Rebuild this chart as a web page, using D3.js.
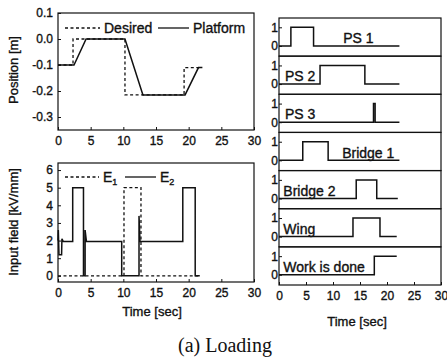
<!DOCTYPE html>
<html>
<head>
<meta charset="utf-8">
<script src="https://cdn.jsdelivr.net/npm/d3@7"></script>
<style>
  body { margin: 0; background: #fff; }
  svg { display: block; font-family: "Liberation Sans", Arial, sans-serif; }
  /* scanned print looks a little heavier than plain regular */
  svg text.heavy { stroke: #111; stroke-width: 0.35px; }
</style>
</head>
<body>
<div id="chart"></div>
<script>
// time axis shared by all panels
const timeTicks = [0, 5, 10, 15, 20, 25, 30];

// position plot (top left)
const posTicks = [0.1, 0.0, -0.1, -0.2, -0.3];
const desiredT = [0, 2.3, 2.3, 10.25, 10.25, 19.3, 19.3, 21.7];
const desiredV = [-0.1, -0.1, 0, 0, -0.215, -0.215, -0.11, -0.11];
const platformT = [0, 2.45, 4.3, 10.25, 13.0, 19.45, 21.5, 22.1];
const platformV = [-0.1, -0.1, 0, 0, -0.215, -0.215, -0.11, -0.11];

// input field plot (bottom left)
const fieldTicks = [0, 1, 2, 3, 4, 5, 6];
const e1T = [0, 10.1, 10.1, 12.7, 12.7, 21.7];
const e1V = [0, 0, 5, 5, 0, 0];
const e2T = [0, 0.05, 0.15, 0.55, 0.6, 0.8, 2.25, 2.25, 3.9, 3.9, 4.15, 4.15, 4.35, 9.75, 9.75, 12.4, 12.4, 12.55, 19.1, 19.1, 21.0, 21.0, 21.7];
const e2V = [2.0, 2.6, 1.2, 1.2, 2.1, 1.95, 1.95, 5, 5, 0, 0, 2.6, 1.95, 1.95, 0, 0, 3.4, 1.95, 1.95, 5, 5, 0, 0];

// on/off signals (right column)
const sigNames = ["PS 1", "PS 2", "PS 3", "Bridge 1", "Bridge 2", "Wing", "Work is done"];
const sigOn = [2.2, 7.6, 17.5, 4.4, 14.3, 13.7, 17.65];
const sigOff = [6.4, 15.9, 17.8, 9.1, 18.1, 18.7, null];
const sigEnd = [22.3, 22.3, 22.3, 22.3, 22.0, 21.8, 21.8];
const sigTicks = [0, 1];
// where each name sits along the time axis
const sigLabelAt = [11.9, 1.1, 1.1, 11.7, 0.8, 0.8, 0.8];

const W = 447, H = 359;
const svg = d3.select("#chart").append("svg")
    .attr("width", W).attr("height", H)
    .attr("viewBox", `0 0 ${W} ${H}`);

svg.append("rect").attr("width", W).attr("height", H).attr("fill", "#fff");

const ink = "#111";
const pts = (ts, vs) => ts.map((t, i) => [t, vs[i]]);

// ---- left column scales ----
const xL = d3.scaleLinear().domain([0, 30]).range([58, 254]);
const yPos = d3.scaleLinear().domain([-0.35, 0.1]).range([130, 13]);
const yField = d3.scaleLinear().domain([-0.35, 6.4]).range([282, 163]);

function frame(x0, x1, y0, y1) {
    svg.append("rect")
        .attr("x", x0).attr("y", y0)
        .attr("width", x1 - x0).attr("height", y1 - y0)
        .attr("fill", "none").attr("stroke", ink).attr("stroke-width", 1.2);
}

function styleAxis(g) {
    g.select(".domain").remove();
    g.selectAll(".tick line").attr("stroke", ink).attr("stroke-width", 1);
    g.selectAll(".tick text")
        .attr("class", "heavy")
        .attr("fill", ink)
        .style("font-size", "12px")
        .style("font-family", "'Liberation Sans', Arial, sans-serif");
}

function leftPlot(y, yTicks, fmt) {
    const [yb, yt] = y.range();
    frame(xL.range()[0], xL.range()[1], yt, yb);
    svg.append("g")
        .attr("transform", `translate(0,${yb})`)
        .call(d3.axisBottom(xL).tickValues(timeTicks).tickSize(-3).tickPadding(6))
        .call(styleAxis);
    svg.append("g")
        .attr("transform", `translate(${xL.range()[0]},0)`)
        .call(d3.axisLeft(y).tickValues(yTicks).tickSize(-3).tickPadding(5).tickFormat(fmt))
        .call(styleAxis);
}

leftPlot(yPos, posTicks, d => d.toFixed(1));
leftPlot(yField, fieldTicks, d3.format("d"));

const linePos = d3.line().x(d => xL(d[0])).y(d => yPos(d[1]));
const lineField = d3.line().x(d => xL(d[0])).y(d => yField(d[1]));

svg.append("path").attr("d", linePos(pts(platformT, platformV)))
    .attr("fill", "none").attr("stroke", ink).attr("stroke-width", 1.5);
svg.append("path").attr("d", linePos(pts(desiredT, desiredV)))
    .attr("fill", "none").attr("stroke", ink).attr("stroke-width", 1.3)
    .attr("stroke-dasharray", "3,2.5");

svg.append("path").attr("d", lineField(pts(e1T, e1V)))
    .attr("fill", "none").attr("stroke", ink).attr("stroke-width", 1.3)
    .attr("stroke-dasharray", "3,2.5");
svg.append("path").attr("d", lineField(pts(e2T, e2V)))
    .attr("fill", "none").attr("stroke", ink).attr("stroke-width", 1.5);

// legends
function legendItem(x0, x1, y, dashed, label, sub) {
    svg.append("line")
        .attr("x1", x0).attr("x2", x1).attr("y1", y).attr("y2", y)
        .attr("stroke", ink).attr("stroke-width", 1.3)
        .attr("stroke-dasharray", dashed ? "3,2.5" : null);
    const t = svg.append("text")
        .attr("class", "heavy")
        .attr("x", x1 + 4).attr("y", y + 5)
        .attr("fill", ink).style("font-size", "14px")
        .text(label);
    if (sub) {
        t.append("tspan").attr("dy", 3).style("font-size", "9px").text(sub);
    }
}
legendItem(65, 100, 28, true, "Desired");
legendItem(158, 189, 28, false, "Platform");
legendItem(65, 99, 177, true, "E", "1");
legendItem(125, 156, 177, false, "E", "2");

// ---- right column: stacked on/off signals ----
const xR = d3.scaleLinear().domain([0, 30]).range([279, 441]);
const top0 = 18, bottom0 = 285;
const ph = (bottom0 - top0) / sigNames.length;

sigNames.forEach((name, i) => {
    const yt = top0 + i * ph, yb = yt + ph;
    const y = d3.scaleLinear().domain([-0.55, 1.5]).range([yb, yt]);
    frame(xR.range()[0], xR.range()[1], yt, yb);

    svg.append("g")
        .attr("transform", `translate(${xR.range()[0]},0)`)
        .call(d3.axisLeft(y).tickValues(sigTicks).tickSize(-3).tickPadding(1).tickFormat(d3.format("d")))
        .call(styleAxis);

    const ts = [0, sigOn[i], sigOn[i]];
    const vs = [0, 0, 1];
    if (sigOff[i] !== null) { ts.push(sigOff[i], sigOff[i]); vs.push(1, 0); }
    ts.push(sigEnd[i]); vs.push(vs[vs.length - 1]);

    svg.append("path")
        .attr("d", d3.line().x(d => xR(d[0])).y(d => y(d[1]))(pts(ts, vs)))
        .attr("fill", "none").attr("stroke", ink).attr("stroke-width", 1.5);

    svg.append("text")
        .attr("class", "heavy")
        .attr("x", xR(sigLabelAt[i])).attr("y", y(0.15))
        .attr("fill", ink).style("font-size", "14px")
        .text(name);

    if (i === sigNames.length - 1) {
        svg.append("g")
            .attr("transform", `translate(0,${yb})`)
            .call(d3.axisBottom(xR).tickValues(timeTicks).tickSize(-3).tickPadding(6))
            .call(styleAxis);
    }
});

// ---- titles ----
function title(x, y, rot, txt) {
    svg.append("text")
        .attr("class", "heavy")
        .attr("transform", `translate(${x},${y})` + (rot ? " rotate(-90)" : ""))
        .attr("text-anchor", "middle").attr("fill", ink)
        .style("font-size", "13px").text(txt);
}
title(18, 70, true, "Position [m]");
title(18, 222, true, "Input field [kV/mm]");
title(152, 316, false, "Time [sec]");
title(357, 326, false, "Time [sec]");

svg.append("text")
    .attr("x", 225).attr("y", 352)
    .attr("text-anchor", "middle").attr("fill", ink)
    .style("font-family", "'Liberation Serif', 'Times New Roman', serif")
    .style("font-size", "20px").text("(a) Loading");
</script>
</body>
</html>
